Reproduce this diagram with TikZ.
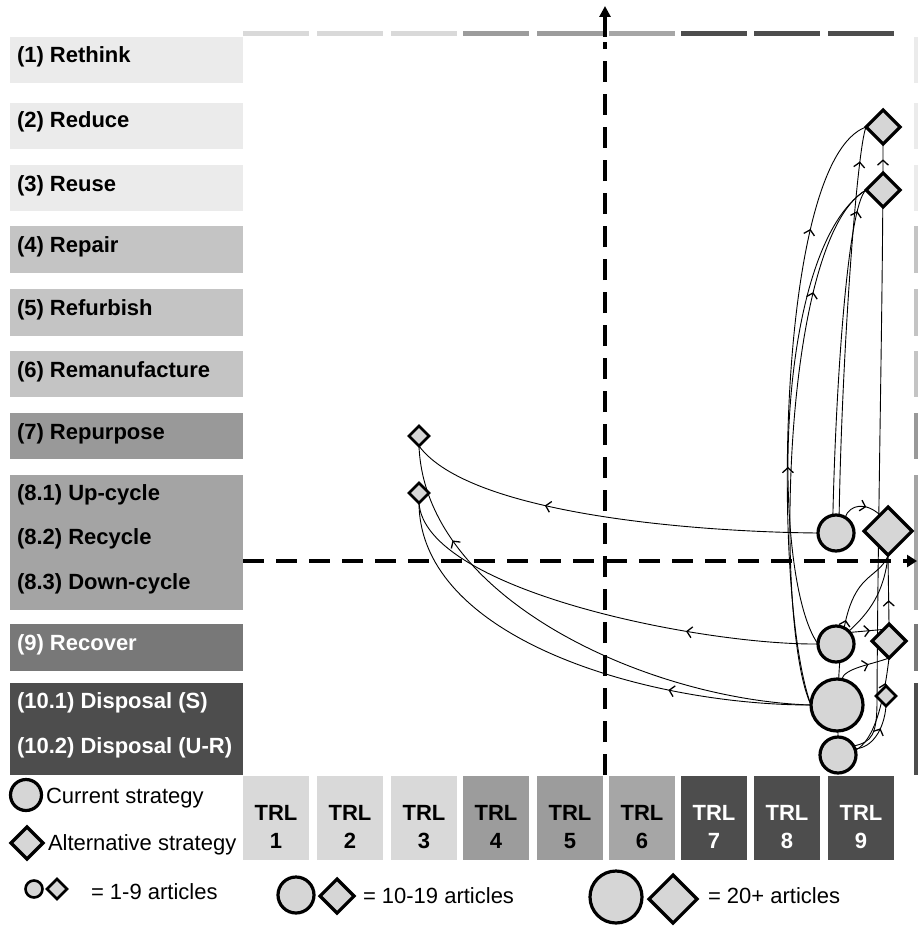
\documentclass[tikz,border=0pt]{standalone}
\usepackage{fontspec}
\setmainfont{Liberation Sans}
\usetikzlibrary{shapes.geometric,arrows.meta,decorations.markings}
\pgfdeclarelayer{edgelayer}
\pgfsetlayers{edgelayer,main}
\definecolor{rA}{HTML}{EBEBEB}
\definecolor{rB}{HTML}{C4C4C4}
\definecolor{rC}{HTML}{999999}
\definecolor{rD}{HTML}{A4A4A4}
\definecolor{rE}{HTML}{787878}
\definecolor{rF}{HTML}{4D4D4D}
\definecolor{tA}{HTML}{D9D9D9}
\definecolor{tB}{HTML}{9C9C9C}
\definecolor{tC}{HTML}{A6A6A6}
\definecolor{tD}{HTML}{4D4D4D}
\definecolor{nf}{HTML}{D6D6D6}
\newcommand{\lblfont}{\fontsize{22}{26}\selectfont\bfseries}
\newcommand{\legfont}{\fontsize{22}{26}\selectfont}
\begin{document}
\begin{tikzpicture}[x=1pt,y=-1pt,
  every node/.style={inner sep=0pt,outer sep=0pt},
  rowbox/.style={fill=#1,draw=none,minimum width=233,anchor=north west},
  sidebar/.style={fill=#1,draw=none,minimum width=4,anchor=north west},
  trlbox/.style={fill=#1,draw=none,minimum width=66,minimum height=84,anchor=north west},
  topbar/.style={fill=#1,draw=none,minimum width=66,minimum height=5,anchor=north west},
  lbl/.style={anchor=base west,font=\lblfont},
  wlbl/.style={lbl,text=white},
  trltxt/.style={anchor=base,font=\lblfont},
  leg/.style={anchor=base west,font=\legfont},
  cur/.style={circle,draw=black,fill=nf,line width=3.2pt,minimum size=#1},
  alt/.style={diamond,draw=black,fill=nf,line width=3.2pt,minimum size=#1},
  edge/.style={line width=0.9pt},
  mk/.style={postaction={decorate,decoration={markings,mark=at position #1 with {\arrow{Straight Barb[length=5pt,width=11pt,line width=1.3pt]}}}}},
  axis/.style={line width=4.5pt,dash pattern=on 21pt off 12pt}
]
\useasboundingbox (0,0) rectangle (918,928);

% strategy rows and side bars
\foreach \n/\t/\h/\c in {1/37/46/rA,2/103/46/rA,3/165/46/rA,4/226/47/rB,5/289/47/rB,6/351/46/rB,7/413/46/rC,8/475/135/rD,9/624/47/rE,10/683/92/rF}{
  \node[rowbox=\c,minimum height=\h] (row\n) at (10,\t) {};
  \node[sidebar=\c,minimum height=\h] (side\n) at (914,\t) {};
}
\node[lbl] (l1) at (17,63) {(1) Rethink};
\node[lbl] (l2) at (17,128) {(2) Reduce};
\node[lbl] (l3) at (17,191) {(3) Reuse};
\node[lbl] (l4) at (17,252) {(4) Repair};
\node[lbl] (l5) at (17,315) {(5) Refurbish};
\node[lbl] (l6) at (17,377) {(6) Remanufacture};
\node[lbl] (l7) at (17,439) {(7) Repurpose};
\node[lbl] (l81) at (17,500) {(8.1) Up-cycle};
\node[lbl] (l82) at (17,544) {(8.2) Recycle};
\node[lbl] (l83) at (17,589) {(8.3) Down-cycle};
\node[wlbl] (l9) at (17,650) {(9) Recover};
\node[wlbl] (l101) at (17,708) {(10.1) Disposal (S)};
\node[wlbl] (l102) at (17,753) {(10.2) Disposal (U-R)};

% TRL boxes and top bars
\foreach \n/\x/\c/\tc in {1/243/tA/black,2/317/tA/black,3/391/tA/black,4/463/tB/black,5/537/tB/black,6/609/tC/black,7/681/tD/white,8/754/tD/white,9/828/tD/white}{
  \node[trlbox=\c] (trl\n) at (\x,776) {};
  \node[trltxt,text=\tc] (trla\n) at (\x+33,820) {TRL};
  \node[trltxt,text=\tc] (trlb\n) at (\x+33,848) {\n};
  \node[topbar=\c] (bar\n) at (\x,31) {};
}

% strategy nodes
\node[alt=34] (d2) at (883,127) {};
\node[alt=34] (d3) at (883,190) {};
\node[alt=20,line width=2.6pt] (d7) at (419,436) {};
\node[alt=20,line width=2.6pt] (d81) at (419,493) {};
\node[cur=36] (c8) at (836,533) {};
\node[cur=36] (c9) at (836,644) {};
\node[alt=34] (d9) at (889,641) {};
\node[cur=52] (c101) at (837,705) {};
\node[alt=20,line width=2.6pt] (d101) at (886,696) {};
\node[cur=36] (c102) at (838,755) {};

% connectors
\begin{pgfonlayer}{edgelayer}
\coordinate (d8c) at (888,531);
\path (d8c) +(-8,-16) coordinate (d8nw) +(0,25) coordinate (d8s);
\draw[edge,mk=0.66] (c8.west) .. controls (700,532) and (470,515) .. (d7.south);
\draw[edge,mk=0.3] (c9.west) .. controls (700,645) and (425,590) .. (d81.south);
\draw[edge,mk=0.8] (c101.west) .. controls (650,700) and (425,600) .. (d7.south);
\draw[edge,mk=0.3] (c101.west) .. controls (650,705) and (420,640) .. (d81.south);
\draw[edge,mk=0.93] (c8.100) .. controls (836,380) and (848,205) .. (d3.west);
\draw[edge,mk=0.91] (c8.80) .. controls (842,350) and (857,150) .. (d2.west);
\draw[edge,mk=0.8] (c101.west) .. controls (772,600) and (775,160) .. (d2.west);
\draw[edge,mk=0.38] (c9.west) .. controls (772,580) and (772,250) .. (d3.west);
\draw[edge,mk=0.78] (c101.west) .. controls (775,630) and (780,240) .. (d3.west);
\draw[edge,mk=0.62] (c8.60) .. controls (850,504) and (866,502) .. (d8nw);
\draw[edge,mk=0.6] (c9.40) -- (d9.115);
\draw[edge,mk=0.35] (d9.north) -- (d8s);
\draw[edge,mk=0.6] (c102.north) .. controls (835,560) and (872,590) .. (d8s);
\draw[edge] (c9.45) .. controls (870,612) and (884,592) .. (d8s);
\draw[edge,mk=0.6] (c101.80) .. controls (845,668) and (870,665) .. (d9.south);
\draw[edge,mk=0.6] (c102.20) .. controls (872,748) and (884,730) .. (d101.south);
\draw[edge,mk=0.75] (c102.15) .. controls (875,740) and (884,700) .. (d9.south);
\draw[edge,mk=0.975] (c102.30) .. controls (872,742) and (877,735) .. (877,700) .. controls (878,500) and (883,300) .. (d2.south);
\end{pgfonlayer}

% axes
\draw[axis] (605,775) -- (605,42);
\draw[line width=4pt,-{Triangle[length=11pt,width=11pt]}] (605,37) -- (605,6);
\draw[axis,-{Triangle[length=10pt,width=12pt]}] (243,561) -- (917,561);

% large diamond drawn over the axis
\node[alt=48] (d8) at (d8c) {};

% legend
\node[cur=31] (lc) at (26,795) {};
\node[leg] (lct) at (46,803) {Current strategy};
\node[alt=32] (la) at (27,843) {};
\node[leg] (lat) at (48,850) {Alternative strategy};
\node[cur=17,line width=2.6pt] (ls1) at (34,889) {};
\node[alt=20,line width=2.6pt] (ls2) at (57,889) {};
\node[leg] (lst) at (91,899) {= 1-9 articles};
\node[cur=36] (lm1) at (296,895) {};
\node[alt=34] (lm2) at (337,896) {};
\node[leg] (lmt) at (363,903) {= 10-19 articles};
\node[cur=52] (lb1) at (616,897) {};
\node[alt=48] (lb2) at (673,899) {};
\node[leg] (lbt) at (708,903) {= 20+ articles};
\end{tikzpicture}
\end{document}
